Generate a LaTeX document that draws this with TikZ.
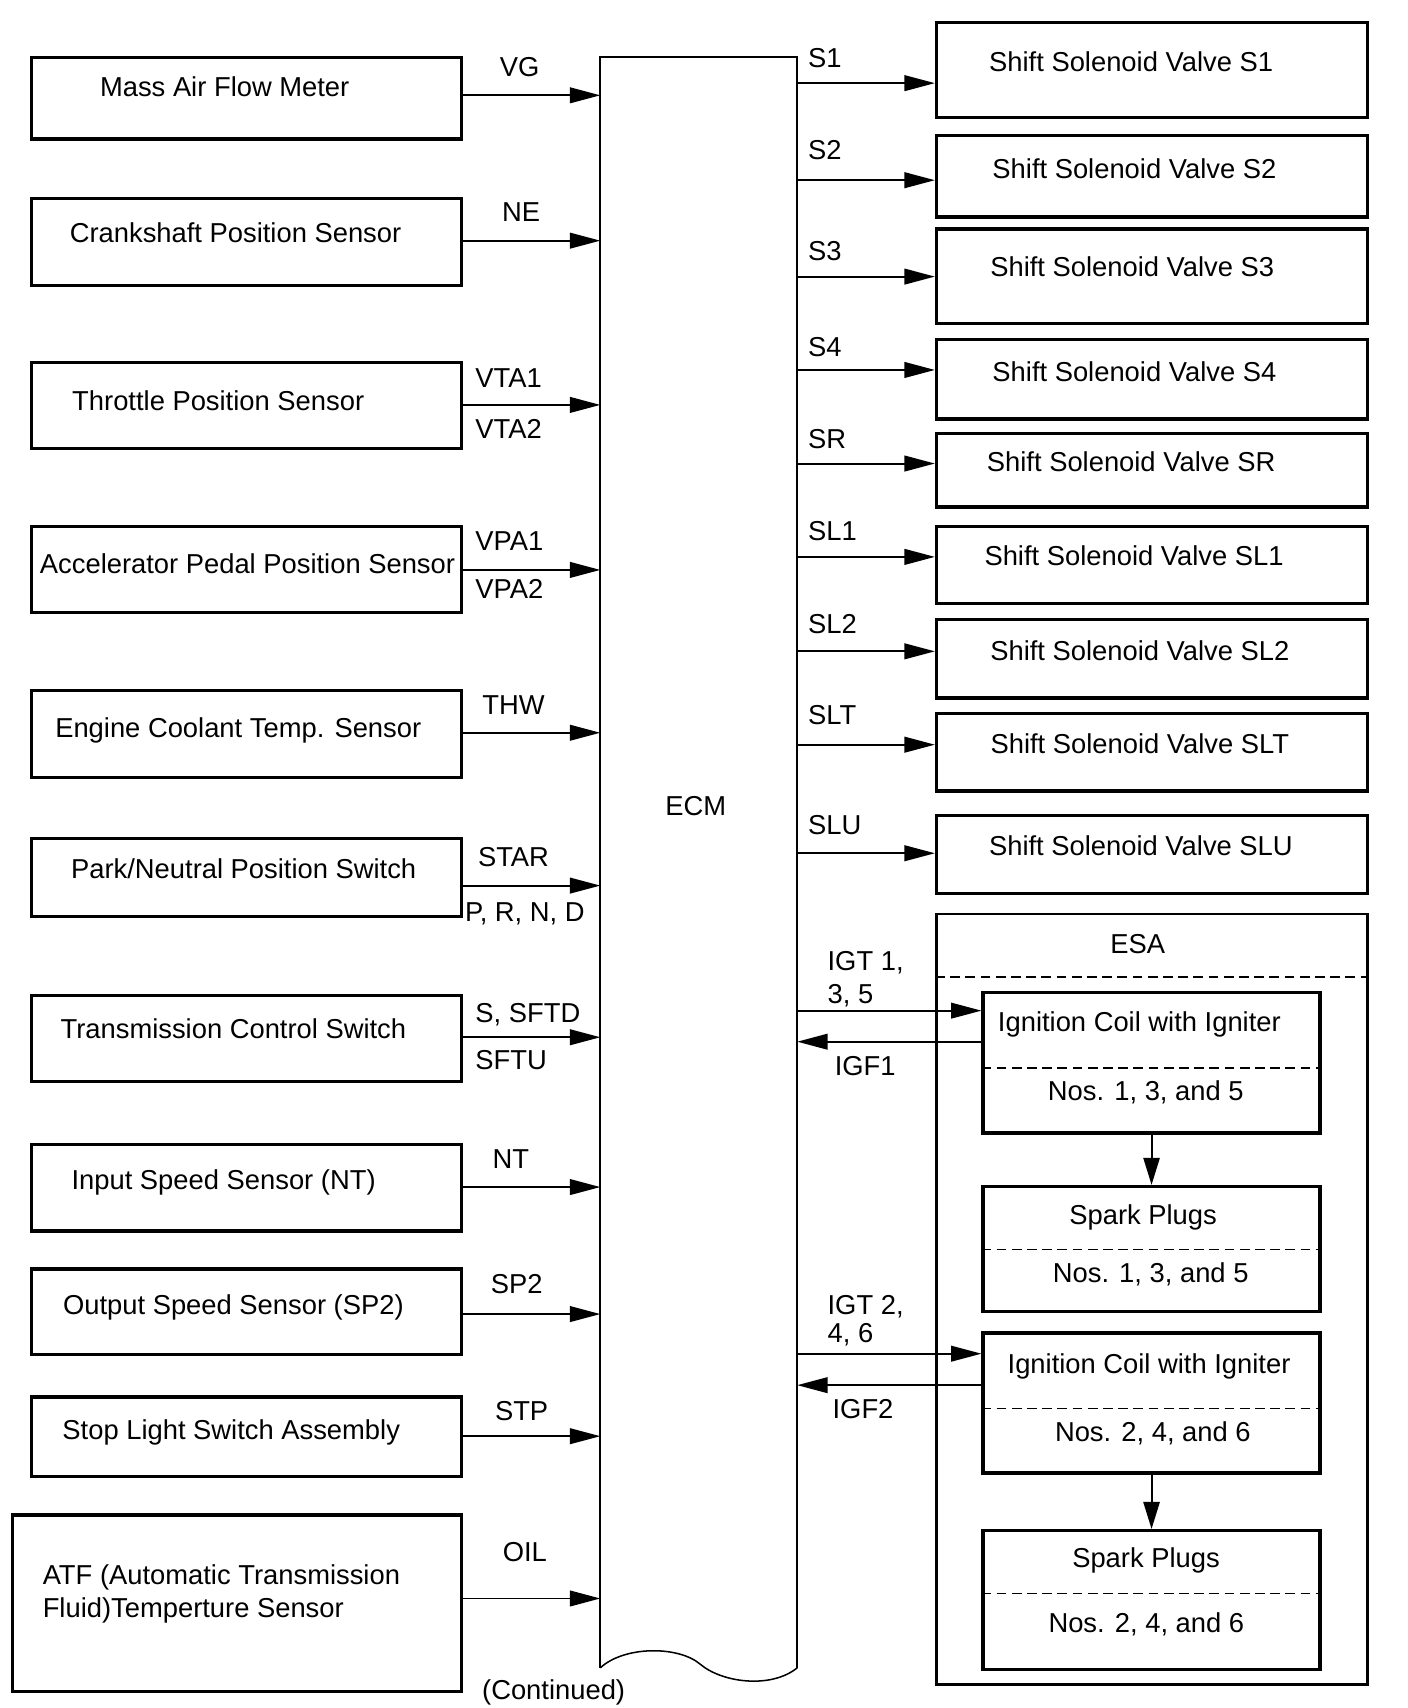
\documentclass[tikz,border=0pt]{standalone}
\usepackage{fontspec}
\setmainfont{Liberation Sans}
\usetikzlibrary{arrows.meta,fit}
\begin{document}
\begin{tikzpicture}[x=0.5pt,y=-0.5pt,
  font=\fontsize{12.6pt}{15pt}\selectfont,
  box/.style={draw, line width=1.5pt, inner sep=0pt},
  esabox/.style={draw, line width=1.3pt, inner sep=0pt},
  frame/.style={inner sep=0pt},
  ecmline/.style={line width=1pt},
  arr/.style={line width=0.9pt, -{Triangle[length=14pt,width=7.2pt]}},
  darr/.style={line width=0.9pt, -{Triangle[length=12.5pt,width=7.5pt]}},
  dashline/.style={line width=0.6pt, dash pattern=on 4.5pt off 2.5pt},
  esadash/.style={line width=1pt, dash pattern=on 4.5pt off 2.5pt},
  txt/.style={inner sep=0pt, text height=9pt, text depth=0pt},
]
\path[fill=white, use as bounding box] (0,0) rectangle (1297,1573.4);

% ---------------- ECM ----------------
\node[frame, fit={(553.4,52.8)(734,1536)}] (ecm) {};
\draw[ecmline] (ecm.south west) -- (ecm.north west) -- (ecm.north east) -- (ecm.south east);
\draw[line width=0.7pt] (ecm.south west) .. controls (575,1516) and (625,1516) .. (645,1533)
   .. controls (665,1550) and (710,1556) .. (ecm.south east);
\node[txt] (ecmtxt) at (641,742.5) {ECM};
\node[txt] (cont) at (510,1557) {(Continued)};

% ---------------- Left boxes ----------------
\node[box, fit={(29,52.8)(425,128)}] (maf) {};
\node[box, fit={(29,183)(425,263)}] (crank) {};
\node[box, fit={(29,333.7)(425,413)}] (tps) {};
\node[box, fit={(29,484.7)(425,564.5)}] (apps) {};
\node[box, fit={(29,636)(425,716)}] (ect) {};
\node[box, fit={(29,772.5)(425,844.5)}] (pnp) {};
\node[box, fit={(29,917)(425,996)}] (tcs) {};
\node[box, fit={(29,1054.6)(425,1134)}] (iss) {};
\node[box, fit={(29,1169)(425,1248)}] (oss) {};
\node[box, fit={(29,1287)(425,1360)}] (sls) {};
\node[box, fit={(11.6,1395.7)(425,1558)}] (atf) {};

\node[txt] (tmaf) at (207,80) {Mass Air Flow Meter};
\node[txt] (tcrank) at (217,214) {Crankshaft Position Sensor};
\node[txt] (ttps) at (201,369) {Throttle Position Sensor};
\node[txt] (tapps) at (228,519) {Accelerator Pedal Position Sensor};
\node[txt] (tect) at (219.5,670.5) {Engine Coolant Temp. Sensor};
\node[txt] (tpnp) at (224.5,800) {Park/Neutral Position Switch};
\node[txt] (ttcs) at (215,948) {Transmission Control Switch};
\node[txt] (tiss) at (206,1087) {Input Speed Sensor (NT)};
\node[txt] (toss) at (215,1202) {Output Speed Sensor (SP2)};
\node[txt] (tsls) at (213,1317) {Stop Light Switch Assembly};
\node[txt, anchor=west] (tatfa) at (39,1451) {ATF (Automatic Transmission};
\node[txt, anchor=west] (tatfb) at (39,1481) {Fluid)Temperture Sensor};

% left arrows
\draw[arr] (maf.east |- 0,87.8) -- (ecm.west |- 0,87.8);
\draw[arr] (crank.east |- 0,221.7) -- (ecm.west |- 0,221.7);
\draw[arr] (tps.east |- 0,373) -- (ecm.west |- 0,373);
\draw[arr] (apps.east |- 0,525) -- (ecm.west |- 0,525);
\draw[arr] (ect.east |- 0,675) -- (ecm.west |- 0,675);
\draw[arr] (pnp.east |- 0,815.8) -- (ecm.west |- 0,815.8);
\draw[arr] (tcs.east |- 0,955.5) -- (ecm.west |- 0,955.5);
\draw[arr] (iss.east |- 0,1093.5) -- (ecm.west |- 0,1093.5);
\draw[arr] (oss.east |- 0,1210.5) -- (ecm.west |- 0,1210.5);
\draw[arr] (sls.east |- 0,1323) -- (ecm.west |- 0,1323);
\draw[arr] (atf.east |- 0,1472.5) -- (ecm.west |- 0,1472.5);

% left labels
\node[txt] (lvg) at (478.7,61.7) {VG};
\node[txt] (lne) at (480,195) {NE};
\node[txt, anchor=west] (lvta1) at (437.6,348) {VTA1};
\node[txt, anchor=west] (lvta2) at (437.6,395) {VTA2};
\node[txt, anchor=west] (lvpa1) at (437.6,498) {VPA1};
\node[txt, anchor=west] (lvpa2) at (437.6,542) {VPA2};
\node[txt] (lthw) at (473,649) {THW};
\node[txt] (lstar) at (473,789) {STAR};
\node[txt, anchor=west] (lprnd) at (428,840) {P, R, N, D};
\node[txt, anchor=west] (lsftd) at (437.6,933) {S, SFTD};
\node[txt, anchor=west] (lsftu) at (437.6,976) {SFTU};
\node[txt] (lnt) at (470.5,1067.5) {NT};
\node[txt] (lsp2) at (476,1183) {SP2};
\node[txt] (lstp) at (480.5,1300) {STP};
\node[txt] (loil) at (483.5,1429.5) {OIL};

% ---------------- Right boxes ----------------
\node[box, fit={(862.7,20.9)(1259.7,108)}] (s1) {};
\node[box, fit={(862.7,125)(1259.7,200)}] (s2) {};
\node[box, fit={(862.7,211)(1259.7,297.8)}] (s3) {};
\node[box, fit={(862.7,312.6)(1259.7,386)}] (s4) {};
\node[box, fit={(862.7,399)(1259.7,467)}] (sr) {};
\node[box, fit={(862.7,485)(1259.7,556)}] (sl1) {};
\node[box, fit={(862.7,571)(1259.7,643)}] (sl2) {};
\node[box, fit={(862.7,657.5)(1259.7,728.6)}] (slt) {};
\node[box, fit={(862.7,751)(1259.7,823)}] (slu) {};

\node[txt] (ts1) at (1042,57) {Shift Solenoid Valve S1};
\node[txt] (ts2) at (1045,155.5) {Shift Solenoid Valve S2};
\node[txt] (ts3) at (1043,245.6) {Shift Solenoid Valve S3};
\node[txt] (ts4) at (1045,342) {Shift Solenoid Valve S4};
\node[txt] (tsr) at (1042,425) {Shift Solenoid Valve SR};
\node[txt] (tsl1) at (1044.7,512) {Shift Solenoid Valve SL1};
\node[txt] (tsl2) at (1050,599) {Shift Solenoid Valve SL2};
\node[txt] (tslt) at (1050,685) {Shift Solenoid Valve SLT};
\node[txt] (tslu) at (1051,779) {Shift Solenoid Valve SLU};

\draw[arr] (ecm.east |- 0,76.6) -- (s1.west |- 0,76.6);
\draw[arr] (ecm.east |- 0,166) -- (s2.west |- 0,166);
\draw[arr] (ecm.east |- 0,254.8) -- (s3.west |- 0,254.8);
\draw[arr] (ecm.east |- 0,340.8) -- (s4.west |- 0,340.8);
\draw[arr] (ecm.east |- 0,427) -- (sr.west |- 0,427);
\draw[arr] (ecm.east |- 0,513) -- (sl1.west |- 0,513);
\draw[arr] (ecm.east |- 0,600) -- (sl2.west |- 0,600);
\draw[arr] (ecm.east |- 0,686) -- (slt.west |- 0,686);
\draw[arr] (ecm.east |- 0,786) -- (slu.west |- 0,786);

\node[txt, anchor=west] (ls1) at (744,53) {S1};
\node[txt, anchor=west] (ls2) at (744,138) {S2};
\node[txt, anchor=west] (ls3) at (744,230.6) {S3};
\node[txt, anchor=west] (ls4) at (744,319) {S4};
\node[txt, anchor=west] (lsr) at (744,404) {SR};
\node[txt, anchor=west] (lsl1) at (744,489) {SL1};
\node[txt, anchor=west] (lsl2) at (744,575) {SL2};
\node[txt, anchor=west] (lslt) at (744,658) {SLT};
\node[txt, anchor=west] (lslu) at (744,759.5) {SLU};

% ---------------- ESA ----------------
\node[esabox, fit={(862.7,842)(1259.7,1552)}] (esa) {};
\node[txt] (tesa) at (1048,869.6) {ESA};
\draw[esadash] (esa.west |- 0,900) -- (esa.east |- 0,900);

\node[box, fit={(905.6,914.6)(1216,1043.6)}] (ign1) {};
\node[box, fit={(905.6,1093)(1216,1208)}] (sp1) {};
\node[box, fit={(905.6,1228)(1216,1357)}] (ign2) {};
\node[box, fit={(905.6,1410)(1216,1538)}] (sp2) {};

\draw[dashline] (ign1.west |- 0,983.8) -- (ign1.east |- 0,983.8);
\draw[dashline] (sp1.west |- 0,1151) -- (sp1.east |- 0,1151);
\draw[dashline] (ign2.west |- 0,1297.6) -- (ign2.east |- 0,1297.6);
\draw[dashline] (sp2.west |- 0,1468) -- (sp2.east |- 0,1468);

\node[txt] (tign1) at (1049.6,941) {Ignition Coil with Igniter};
\node[txt] (tnos1) at (1055.5,1005) {Nos. 1, 3, and 5};
\node[txt] (tsp1) at (1053,1119) {Spark Plugs};
\node[txt] (tnos1b) at (1060,1172.5) {Nos. 1, 3, and 5};
\node[txt] (tign2) at (1058.5,1256) {Ignition Coil with Igniter};
\node[txt] (tnos2) at (1062,1319) {Nos. 2, 4, and 6};
\node[txt] (tsp2) at (1055.7,1434.5) {Spark Plugs};
\node[txt] (tnos2b) at (1056,1494.5) {Nos. 2, 4, and 6};

\draw[darr] (ign1.south) -- (sp1.north);
\draw[darr] (ign2.south) -- (sp2.north);

\draw[arr] (ecm.east |- 0,931) -- (ign1.west |- 0,931);
\draw[arr] (ign1.west |- 0,959.6) -- (ecm.east |- 0,959.6);
\draw[arr] (ecm.east |- 0,1247) -- (ign2.west |- 0,1247);
\draw[arr] (ign2.west |- 0,1276) -- (ecm.east |- 0,1276);

\node[txt, anchor=west] (ligt1a) at (762,885) {IGT 1,};
\node[txt, anchor=west] (ligt1b) at (762,915.5) {3, 5};
\node[txt] (ligf1) at (797,981.6) {IGF1};
\node[txt, anchor=west] (ligt2a) at (762,1201.5) {IGT 2,};
\node[txt, anchor=west] (ligt2b) at (762,1228) {4, 6};
\node[txt] (ligf2) at (795,1298) {IGF2};
\end{tikzpicture}
\end{document}
